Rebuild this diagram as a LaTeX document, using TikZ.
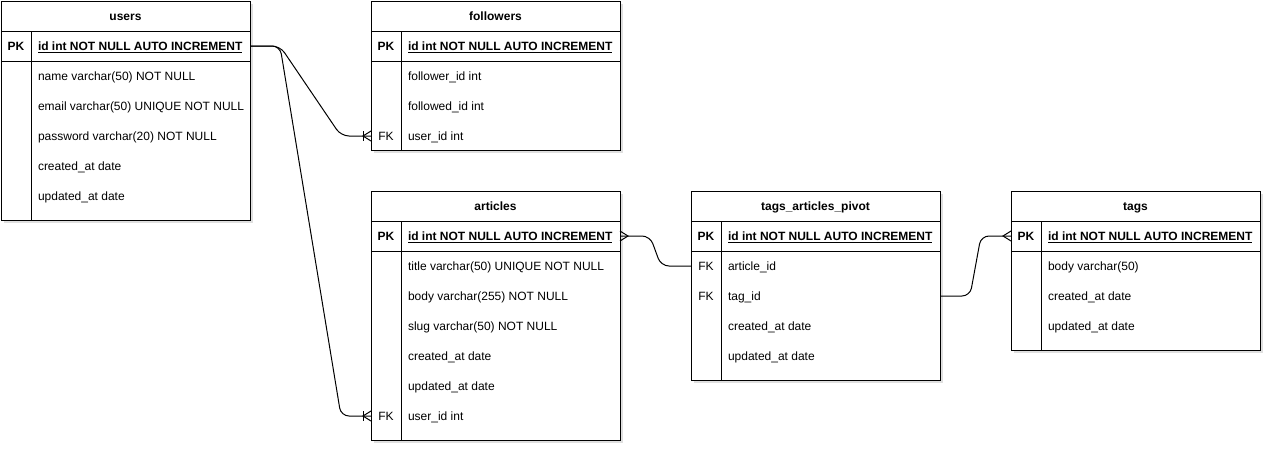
\documentclass[tikz,border=0pt]{standalone}
\usepackage{fontspec}
\setmainfont{Liberation Sans}
\usetikzlibrary{calc,shadows}
\begin{document}
\begin{tikzpicture}[x=1pt,y=-1pt,
  tbl/.style={draw, fill=white, line width=1pt, inner sep=0, outer sep=0, anchor=north west,
    minimum width=249pt, drop shadow={opacity=0.25, shadow xshift=2.5pt, shadow yshift=-2.5pt}},
  fld/.style={anchor=west, inner sep=0, outer sep=0, text height=8pt, text depth=0pt,
    font=\fontsize{12}{14}\selectfont},
  pkf/.style={fld, font=\fontsize{12}{14}\selectfont\bfseries},
  keyl/.style={fld, anchor=center},
  pkl/.style={keyl, font=\fontsize{12}{14}\selectfont\bfseries},
  ttl/.style={keyl, font=\fontsize{12}{14}\selectfont\bfseries},
  sep/.style={line width=1pt},
  conn/.style={line width=1pt, rounded corners=8pt},
  foot/.style={line width=1pt}
]
\useasboundingbox (0,0) rectangle (1272,453);
\newcommand\ertab[6]{% name, x, y, height, title, title node name
  \node[tbl, minimum height=#4pt] (#1) at (#2,#3) {};
  \draw[sep] ($(#1.north west)+(0,30)$) -- ($(#1.north east)+(0,30)$);
  \draw[sep] ($(#1.north west)+(0,60)$) -- ($(#1.north east)+(0,60)$);
  \draw[sep] ($(#1.north west)+(30,30)$) -- ($(#1.south west)+(30,0)$);
  \node[ttl] (#6) at ($(#1.north)+(0,15)$) {#5};
  \node[pkl] (#6-pk) at ($(#1.north west)+(15,45)$) {PK};
}
\newcommand\pkline[1]{\draw[line width=0.9pt] ($(#1.south west)+(0,2.5)$) -- ($(#1.south east)+(0,2.5)$);}

% users
\ertab{users}{1}{1}{219}{users}{ut}
\node[pkf] (upk) at (38,46) {id int NOT NULL AUTO INCREMENT}; \pkline{upk}
\node[fld] (u1) at (38,76) {name varchar(50) NOT NULL};
\node[fld] (u2) at (38,106) {email varchar(50) UNIQUE NOT NULL};
\node[fld] (u3) at (38,136) {password varchar(20) NOT NULL};
\node[fld] (u4) at (38,166) {created\_at date};
\node[fld] (u5) at (38,196) {updated\_at date};

% followers
\ertab{followers}{371}{1}{149}{followers}{ft}
\node[pkf] (fpk) at (408,46) {id int NOT NULL AUTO INCREMENT}; \pkline{fpk}
\node[fld] (f1) at (408,76) {follower\_id int};
\node[fld] (f2) at (408,106) {followed\_id int};
\node[fld] (f3) at (408,136) {user\_id int};
\node[keyl] (f3k) at (386,136) {FK};

% articles
\ertab{articles}{371}{191}{249}{articles}{at}
\node[pkf] (apk) at (408,236) {id int NOT NULL AUTO INCREMENT}; \pkline{apk}
\node[fld] (a1) at (408,266) {title varchar(50) UNIQUE NOT NULL};
\node[fld] (a2) at (408,296) {body varchar(255) NOT NULL};
\node[fld] (a3) at (408,326) {slug varchar(50) NOT NULL};
\node[fld] (a4) at (408,356) {created\_at date};
\node[fld] (a5) at (408,386) {updated\_at date};
\node[fld] (a6) at (408,416) {user\_id int};
\node[keyl] (a6k) at (386,416) {FK};

% pivot
\ertab{pivot}{691}{191}{189}{tags\_articles\_pivot}{pt}
\node[pkf] (ppk) at (728,236) {id int NOT NULL AUTO INCREMENT}; \pkline{ppk}
\node[fld] (p1) at (728,266) {article\_id};
\node[keyl] (p1k) at (706,266) {FK};
\node[fld] (p2) at (728,296) {tag\_id};
\node[keyl] (p2k) at (706,296) {FK};
\node[fld] (p3) at (728,326) {created\_at date};
\node[fld] (p4) at (728,356) {updated\_at date};

% tags
\ertab{tags}{1011}{191}{159}{tags}{tt}
\node[pkf] (tpk) at (1048,236) {id int NOT NULL AUTO INCREMENT}; \pkline{tpk}
\node[fld] (t1) at (1048,266) {body varchar(50)};
\node[fld] (t2) at (1048,296) {created\_at date};
\node[fld] (t3) at (1048,326) {updated\_at date};

% connector end points
\coordinate (s1) at (users.east |- upk);
\coordinate (e1) at (followers.west |- f3);
\coordinate (e2) at (articles.west |- a6);
\coordinate (s3) at (articles.east |- apk);
\coordinate (e3) at (pivot.west |- p1);
\coordinate (s4) at (pivot.east |- p2);
\coordinate (e4) at (tags.west |- tpk);

% users -> followers
\draw[conn] (s1) -- ++(30,0) -- ($(e1)+(-30,0)$) -- (e1);
\draw[foot] ($(e1)+(0,-5)$) -- ($(e1)+(-8,0)$) -- ($(e1)+(0,5)$);
\draw[foot] ($(e1)+(-8,-5)$) -- ($(e1)+(-8,5)$);
% users -> articles
\draw[conn] (s1) -- ++(30,0) -- ($(e2)+(-30,0)$) -- (e2);
\draw[foot] ($(e2)+(0,-5)$) -- ($(e2)+(-8,0)$) -- ($(e2)+(0,5)$);
\draw[foot] ($(e2)+(-8,-5)$) -- ($(e2)+(-8,5)$);
% articles -> pivot
\draw[conn] (s3) -- ++(30,0) -- ($(e3)+(-30,0)$) -- (e3);
\draw[foot] ($(s3)+(0,-5)$) -- ($(s3)+(8,0)$) -- ($(s3)+(0,5)$);
% pivot -> tags
\draw[conn] (s4) -- ++(30,0) -- ($(e4)+(-30,0)$) -- (e4);
\draw[foot] ($(e4)+(0,-5)$) -- ($(e4)+(-8,0)$) -- ($(e4)+(0,5)$);
\end{tikzpicture}
\end{document}
